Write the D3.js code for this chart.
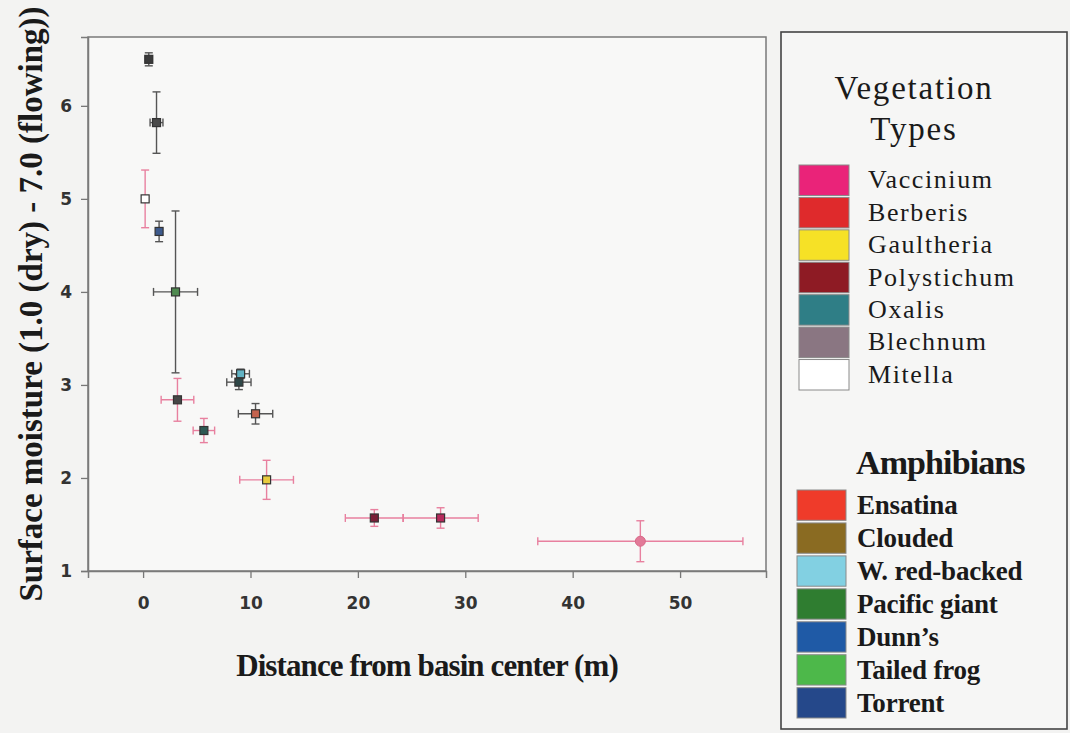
<!DOCTYPE html>
<html>
<head>
<meta charset="utf-8">
<script src="https://cdn.jsdelivr.net/npm/d3@7"></script>
<style>
  html, body { margin: 0; padding: 0; background: #f3f3f2; }
  svg { display: block; }
</style>
</head>
<body>
<svg id="chart" width="1070" height="733"></svg>
<script>
// Site means: distance from basin center (m) and surface moisture score, with ± error
const distance   = [0.53, 1.25, 0.19, 1.49, 3.02, 9.08, 8.92, 3.20, 10.47, 5.66, 11.50, 21.53, 27.70, 46.30];
const moisture   = [6.50, 5.82, 5.00, 4.65, 4.00, 3.12, 3.03, 2.84, 2.69, 2.51, 1.98, 1.57, 1.57, 1.32];
const distErr    = [0.30, 0.60, 0.00, 0.20, 2.05, 0.82, 1.13, 1.52, 1.60, 1.00, 2.50, 2.70, 3.50, 9.55];
const moistErr   = [0.07, 0.33, 0.31, 0.11, 0.87, 0.05, 0.08, 0.23, 0.11, 0.13, 0.21, 0.09, 0.11, 0.22];
const markerFill = ["#3a3a3a", "#4a4a4a", "#ffffff", "#3d5a8c", "#4f8a50", "#62b3c4", "#2e4747",
                    "#474747", "#c4634e", "#2f5954", "#e9cb3e", "#7a2038", "#b62a5c", "#e27a98"];
const barGroup   = ["dark", "dark", "pink", "dark", "dark", "dark", "dark",
                    "pink", "dark", "pink", "pink", "pink", "pink", "pink"];
const markerShape = ["square", "square", "square", "square", "square", "square", "square",
                     "square", "square", "square", "square", "square", "square", "circle"];

const xTicks = [0, 10, 20, 30, 40, 50];
const yTicks = [1, 2, 3, 4, 5, 6];

const vegNames  = ["Vaccinium", "Berberis", "Gaultheria", "Polystichum", "Oxalis", "Blechnum", "Mitella"];
const vegColors = ["#ea2379", "#df2a2c", "#f6e126", "#8e1b24", "#2f7e86", "#8a7682", "#ffffff"];
const amphNames  = ["Ensatina", "Clouded", "W. red-backed", "Pacific giant", "Dunn\u2019s", "Tailed frog", "Torrent"];
const amphColors = ["#ef3b2a", "#8a6b22", "#82d0e2", "#2f7d30", "#1f5aa6", "#4db84a", "#25488a"];

const barColor = { dark: "#555555", pink: "#e8809f" };

const svg = d3.select("#chart");
const plotL = 88, plotR = 766, plotT = 37, plotB = 571;

const x = d3.scaleLinear().domain([-5.13, 58]).range([plotL, plotR]);
const y = d3.scaleLinear().domain([1, 6.74]).range([plotB, plotT]);

// plot panel
svg.append("rect")
  .attr("x", plotL).attr("y", plotT)
  .attr("width", plotR - plotL).attr("height", plotB - plotT)
  .attr("fill", "#f8f8f7").attr("stroke", "#7a7a7a").attr("stroke-width", 1.5);

// axes
const tickFont = "'DejaVu Sans', sans-serif";
const xAxis = svg.append("g").attr("transform", `translate(0,${plotB})`)
  .call(d3.axisBottom(x).tickValues(xTicks).tickFormat(d3.format("d")).tickSize(7).tickPadding(19));
const yAxis = svg.append("g").attr("transform", `translate(${plotL},0)`)
  .call(d3.axisLeft(y).tickValues(yTicks).tickFormat(d3.format("d")).tickSize(7).tickPadding(9));
[xAxis, yAxis].forEach(g => {
  g.select(".domain").attr("stroke", "#7a7a7a").attr("stroke-width", 1.5);
  g.selectAll(".tick line").attr("stroke", "#777").attr("stroke-width", 1.3);
  g.selectAll(".tick text")
    .attr("fill", "#333").attr("font-family", tickFont)
    .attr("font-weight", "bold").attr("font-size", 17);
});

// error bars
const pts = distance.map((d, i) => ({
  x: d, y: moisture[i], xe: distErr[i], ye: moistErr[i],
  fill: markerFill[i], bar: barColor[barGroup[i]], shape: markerShape[i]
}));

const eb = svg.append("g").attr("stroke-width", 1.4).attr("fill", "none");
const cap = 4;
pts.forEach(p => {
  const g = eb.append("g").attr("stroke", p.bar);
  if (p.ye > 0) {
    g.append("line").attr("x1", x(p.x)).attr("x2", x(p.x))
      .attr("y1", y(p.y - p.ye)).attr("y2", y(p.y + p.ye));
    [p.y - p.ye, p.y + p.ye].forEach(v =>
      g.append("line").attr("x1", x(p.x) - cap).attr("x2", x(p.x) + cap)
        .attr("y1", y(v)).attr("y2", y(v)));
  }
  if (p.xe > 0) {
    g.append("line").attr("y1", y(p.y)).attr("y2", y(p.y))
      .attr("x1", x(p.x - p.xe)).attr("x2", x(p.x + p.xe));
    [p.x - p.xe, p.x + p.xe].forEach(v =>
      g.append("line").attr("y1", y(p.y) - cap).attr("y2", y(p.y) + cap)
        .attr("x1", x(v)).attr("x2", x(v)));
  }
});

// markers
const mk = svg.append("g");
pts.forEach(p => {
  if (p.shape === "circle") {
    mk.append("circle").attr("cx", x(p.x)).attr("cy", y(p.y)).attr("r", 5)
      .attr("fill", p.fill).attr("stroke", "#d86888").attr("stroke-width", 1);
  } else {
    mk.append("rect").attr("x", x(p.x) - 4).attr("y", y(p.y) - 4)
      .attr("width", 8).attr("height", 8)
      .attr("fill", p.fill).attr("stroke", "#333").attr("stroke-width", 1.2);
  }
});

// axis titles
const serif = "'Liberation Serif', 'Times New Roman', serif";
svg.append("text")
  .attr("x", (plotL + plotR) / 2).attr("y", 676)
  .attr("text-anchor", "middle")
  .attr("font-family", serif).attr("font-weight", "bold").attr("font-size", 31)
  .attr("letter-spacing", -0.9).attr("fill", "#1a1a1a")
  .text("Distance from basin center (m)");

svg.append("text")
  .attr("transform", `translate(42,${(plotT + plotB) / 2}) rotate(-90)`)
  .attr("text-anchor", "middle")
  .attr("font-family", serif).attr("font-weight", "bold").attr("font-size", 33)
  .attr("fill", "#1a1a1a")
  .text("Surface moisture (1.0 (dry) - 7.0 (flowing))");

// legend panel
const lg = svg.append("g");
lg.append("rect").attr("x", 781).attr("y", 32).attr("width", 286).attr("height", 697)
  .attr("fill", "#f6f6f5").attr("stroke", "#444").attr("stroke-width", 1.6);

lg.append("text").attr("x", 914).attr("y", 99).attr("text-anchor", "middle")
  .attr("font-family", serif).attr("font-size", 33).attr("letter-spacing", 1.8)
  .attr("fill", "#1a1a1a").text("Vegetation");
lg.append("text").attr("x", 914).attr("y", 140).attr("text-anchor", "middle")
  .attr("font-family", serif).attr("font-size", 33).attr("letter-spacing", 1.8)
  .attr("fill", "#1a1a1a").text("Types");

const vegRow = d3.scaleBand().domain(vegNames).range([165, 390]).paddingInner(0.06);
vegNames.forEach((n, i) => {
  lg.append("rect").attr("x", 799).attr("y", vegRow(n))
    .attr("width", 50).attr("height", vegRow.bandwidth())
    .attr("fill", vegColors[i]).attr("stroke", "#8a8a8a").attr("stroke-width", 1);
  lg.append("text").attr("x", 868).attr("y", vegRow(n) + vegRow.bandwidth() / 2 + 8)
    .attr("font-family", serif).attr("font-size", 26).attr("letter-spacing", 1.6)
    .attr("fill", "#1a1a1a").text(n);
});

lg.append("text").attr("x", 856).attr("y", 474)
  .attr("font-family", serif).attr("font-weight", "bold").attr("font-size", 34)
  .attr("letter-spacing", -0.9).attr("fill", "#1a1a1a")
  .text("Amphibians");

const amphRow = d3.scaleBand().domain(amphNames).range([490, 718]).paddingInner(0.08);
amphNames.forEach((n, i) => {
  lg.append("rect").attr("x", 797).attr("y", amphRow(n))
    .attr("width", 49).attr("height", amphRow.bandwidth())
    .attr("fill", amphColors[i]).attr("stroke", "#8a8a8a").attr("stroke-width", 1);
  lg.append("text").attr("x", 857).attr("y", amphRow(n) + amphRow.bandwidth() / 2 + 9)
    .attr("font-family", serif).attr("font-weight", "bold").attr("font-size", 27)
    .attr("letter-spacing", -0.2).attr("fill", "#1a1a1a").text(n);
});
</script>
</body>
</html>
